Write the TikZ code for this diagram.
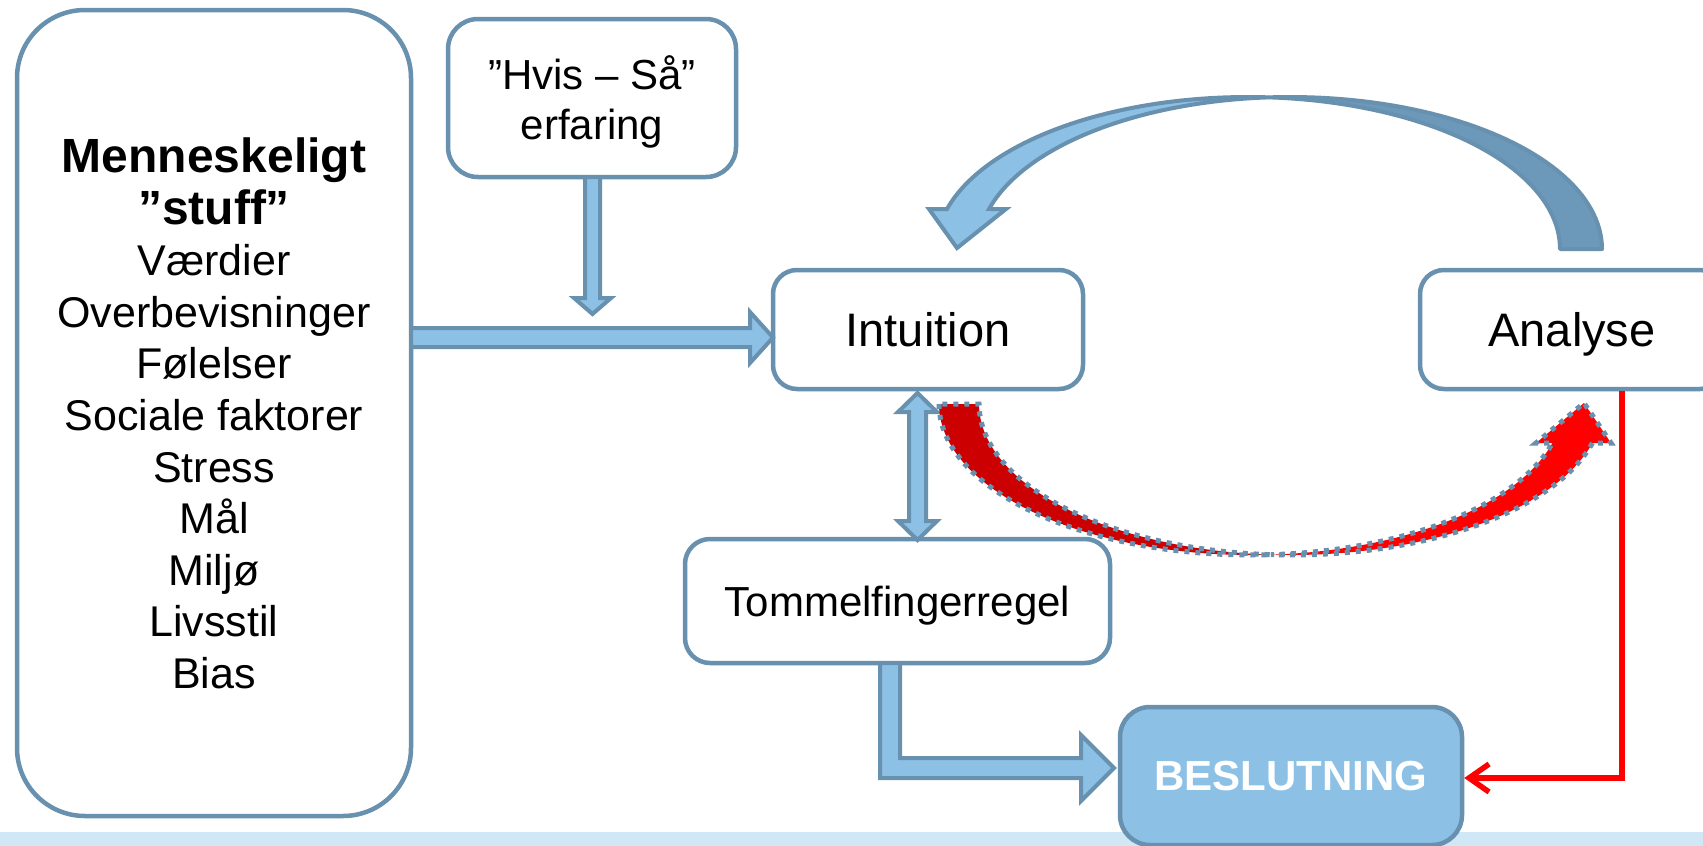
\documentclass[tikz,border=0pt]{standalone}
\usepackage{fontspec}
\setmainfont{Liberation Sans}
\usetikzlibrary{arrows.meta,calc}
\definecolor{edgeblue}{RGB}{104,144,175}
\definecolor{fillblue}{RGB}{140,193,229}
\definecolor{darkface}{RGB}{108,153,186}
\definecolor{stripblue}{RGB}{208,231,245}
\definecolor{darkred}{RGB}{204,0,0}
\definecolor{brightred}{RGB}{255,0,0}
\begin{document}
\begin{tikzpicture}[x=1pt,y=-1pt,
  box/.style={draw=edgeblue, line width=4.5pt, fill=white, rectangle, inner sep=0pt, align=center, text=black},
  blockarrow/.style={draw=edgeblue, line width=4pt, fill=fillblue, line join=miter, miter limit=10},
  ribbonback/.style={draw=edgeblue, line width=4pt, fill=darkface, line join=round},
  ribbonfront/.style={draw=edgeblue, line width=4pt, fill=fillblue, line join=miter},
  redback/.style={fill=darkred, draw=edgeblue, line width=5pt, dash pattern=on 5pt off 6pt},
  redfront/.style={fill=brightred, draw=edgeblue, line width=5pt, dash pattern=on 5pt off 6pt},
  redline/.style={draw=brightred, line width=5.5pt, -{Straight Barb[length=20pt,width=28pt]}},
]
\clip (0,0) rectangle (1703,846);
\fill[white] (0,0) rectangle (1703,846);
\fill[stripblue] (0,832) rectangle (1703,846);

% boxes
\node[box, rounded corners=68pt, minimum width=394pt, minimum height=806pt,
      font=\fontsize{43}{51.6}\selectfont, text depth=-6pt] (menn) at (214,413)
  {{\fontsize{48}{51.6}\selectfont\bfseries Menneskeligt}\\{\fontsize{48}{51.6}\selectfont\bfseries ”stuff”}\\Værdier\\Overbevisninger\\Følelser\\Sociale faktorer\\Stress\\Mål\\Miljø\\Livsstil\\Bias};
\node[box, rounded corners=30pt, minimum width=288pt, minimum height=158pt,
      font=\fontsize{42}{50}\selectfont, text depth=1pt] (hvis) at (592,98) {”Hvis – Så”\\erfaring};
\node[box, rounded corners=24pt, minimum width=310pt, minimum height=119pt,
      font=\fontsize{47}{54}\selectfont, text depth=-6pt] (intu) at (928,329.5) {Intuition};
\node[box, rounded corners=24pt, minimum width=304pt, minimum height=119pt,
      font=\fontsize{47}{54}\selectfont, text depth=-6pt] (anal) at (1572,329.5) {Analyse};
\node[box, rounded corners=25pt, minimum width=425pt, minimum height=124pt,
      font=\fontsize{42}{48}\selectfont, text depth=-4pt] (tomm) at (897.5,601) {Tommelfingerregel};
\node[box, fill=fillblue, rounded corners=30pt, minimum width=342pt, minimum height=138pt,
      font=\fontsize{42}{48}\selectfont\bfseries, text=white, text depth=-4pt] (besl) at (1291,776) {BESLUTNING};

% block arrows
% menneskeligt -> intuition
\draw[blockarrow] (411,328) -- (750,328) -- (750,312) -- (773,337.5) -- (750,363) -- (750,347) -- (411,347) -- cycle;
% hvis -> horizontal arrow
\draw[blockarrow] (585,177) -- (585,298) -- (574,298) -- (592.5,314) -- (611,298) -- (600,298) -- (600,177) -- cycle;
% intuition <-> tommelfingerregel
\draw[blockarrow] (917.5,393) -- (937,412) -- (926,412) -- (926,521) -- (937,521) -- (917.5,540) -- (898,521) -- (909,521) -- (909,412) -- (898,412) -- cycle;
% tommelfingerregel -> beslutning
\draw[blockarrow] (880,663) -- (880,778) -- (1081,778) -- (1081,801) -- (1114,768) -- (1081,735) -- (1081,758) -- (900,758) -- (900,663) -- cycle;

% red connector analyse -> beslutning
\draw[redline] ($(anal.south)+(50,0)$) |- ($(besl.east)+(0,2)$);

% blue curved arrow (analyse -> intuition)
\filldraw[ribbonback]
  plot[domain=0:-93.86, samples=50] ({1290+312*cos(\x)},{249+152*sin(\x)})
  -- plot[domain=-86.14:0, samples=50] ({1248+312*cos(\x)},{249+152*sin(\x)}) -- cycle;
\filldraw[ribbonfront]
  plot[domain=195.26:273.86, samples=50] ({1248+312*cos(\x)},{249+152*sin(\x)})
  -- plot[domain=266.14:195.26, samples=50] ({1290+312*cos(\x)},{249+152*sin(\x)})
  -- (1006,209) -- (957,248) -- (929,209) -- cycle;

% red curved arrow (intuition -> analyse)
\filldraw[redback]
  plot[domain=180:86.33, samples=50] ({1251+312*cos(\x)},{404+151*sin(\x)})
  -- plot[domain=93.675:180, samples=50] ({1291+312*cos(\x)},{404+151*sin(\x)}) -- cycle;
\filldraw[redfront]
  plot[domain=14.97:93.675, samples=50] ({1291+312*cos(\x)},{404+151*sin(\x)})
  -- plot[domain=86.33:14.97, samples=50] ({1251+312*cos(\x)},{404+151*sin(\x)})
  -- (1536,443) -- (1584,403) -- (1611,443) -- cycle;
\end{tikzpicture}
\end{document}
